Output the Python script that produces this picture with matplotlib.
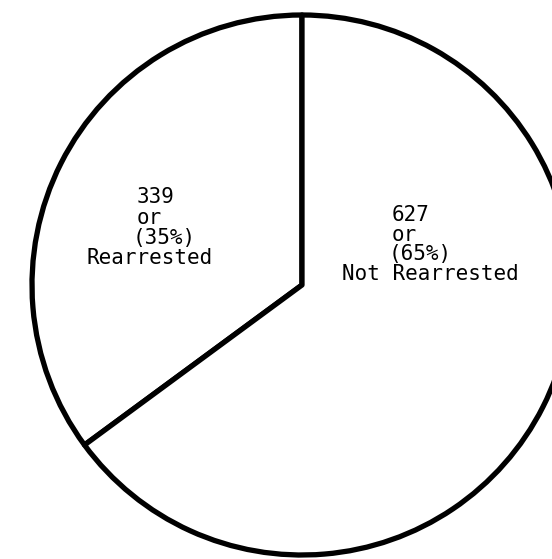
import matplotlib
matplotlib.use("Agg")
import matplotlib.pyplot as plt

# Outcome counts
categories = ["Rearrested", "Not Rearrested"]
counts = [339, 627]
percents = [35, 65]

W, H = 552, 559
fig = plt.figure(figsize=(W / 100, H / 100), dpi=100)
ax = fig.add_axes([0, 0, 1, 1])

cx, cy, r = 302, H - 285, 270
ax.pie(
    counts,
    center=(cx, cy),
    radius=r,
    startangle=90,
    counterclock=True,
    colors=["white", "white"],
    wedgeprops=dict(edgecolor="black", linewidth=3.8, joinstyle="round"),
    frame=True,
)
ax.set_xlim(0, W)
ax.set_ylim(0, H)
ax.set_aspect("equal")
ax.axis("off")

font = dict(family="DejaVu Sans Mono", fontsize=15, color="black",
            ha="left", va="center")

# Typewritten label blocks: (text, x, y measured from the top)
left_lines = [
    (f"{counts[0]}", 137, 197),
    ("or", 137, 218),
    (f"({percents[0]}%)", 133, 238),
    (categories[0], 86, 258),
]
right_lines = [
    (f"{counts[1]}", 392, 215),
    ("or", 392, 235),
    (f"({percents[1]}%)", 389, 254),
    (categories[1], 342, 274),
]
for t, x, y in left_lines + right_lines:
    ax.text(x, H - y, t, **font)

fig.savefig("out.png", dpi=100, facecolor="white")
